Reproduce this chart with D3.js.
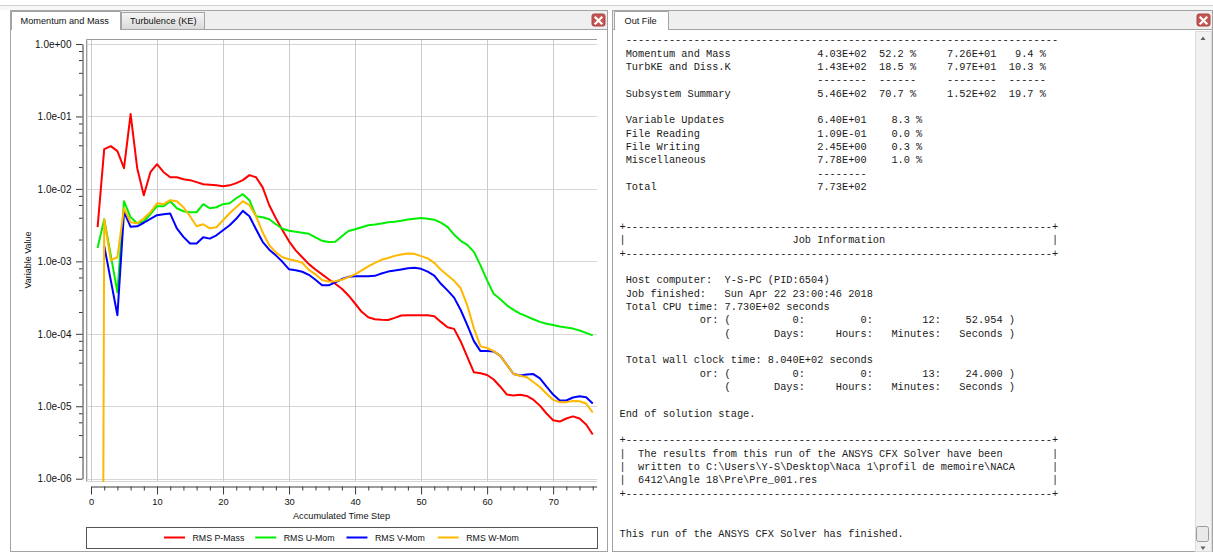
<!DOCTYPE html>
<html>
<head>
<meta charset="utf-8">
<script src="https://cdn.jsdelivr.net/npm/d3@7"></script>
<style>
  html, body { margin: 0; padding: 0; background: #fff; overflow: hidden; }
  svg { display: block; }
  .ui { font-family: Tahoma, "Liberation Sans", Arial, sans-serif; fill: #111; }
  .mono { font-family: "Courier New", "Liberation Mono", monospace; font-size: 10.3px; fill: #1a1a1a; white-space: pre; }
</style>
</head>
<body>
<svg id="view" width="1213" height="554"></svg>
<script>
// ---- Residual history (RMS residuals per accumulated time step) ----
const timeSteps = [
  1, 2, 3, 4, 5, 6, 7, 8, 9, 10, 11, 12, 13, 14, 15, 16, 17, 18, 19, 20,
  21, 22, 23, 24, 25, 26, 27, 28, 29, 30, 31, 32, 33, 34, 35, 36, 37, 38, 39, 40,
  41, 42, 43, 44, 45, 46, 47, 48, 49, 50, 51, 52, 53, 54, 55, 56, 57, 58, 59, 60,
  61, 62, 63, 64, 65, 66, 67, 68, 69, 70, 71, 72, 73, 74, 75, 76
];

const rmsPMass = [
  2.96e-3, 3.54e-2, 3.89e-2, 3.32e-2, 1.93e-2, 1.08e-1, 1.93e-2, 8.18e-3, 1.70e-2, 2.19e-2,
  1.70e-2, 1.45e-2, 1.45e-2, 1.36e-2, 1.32e-2, 1.24e-2, 1.16e-2, 1.14e-2, 1.12e-2, 1.09e-2,
  1.12e-2, 1.20e-2, 1.32e-2, 1.55e-2, 1.45e-2, 1.05e-2, 5.95e-3, 3.94e-3, 2.69e-3, 1.89e-3,
  1.42e-3, 1.14e-3, 9.16e-4, 7.71e-4, 6.61e-4, 5.65e-4, 4.91e-4, 4.18e-4, 3.38e-4, 2.62e-4,
  2.01e-4, 1.69e-4, 1.59e-4, 1.56e-4, 1.55e-4, 1.66e-4, 1.79e-4, 1.80e-4, 1.80e-4, 1.80e-4,
  1.80e-4, 1.75e-4, 1.46e-4, 1.23e-4, 1.17e-4, 7.85e-5, 4.80e-5, 2.94e-5, 2.86e-5, 2.70e-5,
  2.34e-5, 1.86e-5, 1.45e-5, 1.41e-5, 1.44e-5, 1.39e-5, 1.23e-5, 1.02e-5, 7.94e-6, 6.41e-6,
  6.15e-6, 6.77e-6, 7.26e-6, 6.77e-6, 5.60e-6, 4.07e-6
];

const rmsUMom = [
  1.53e-3, 3.81e-3, 1.21e-3, 3.73e-4, 6.76e-3, 4.06e-3, 3.36e-3, 3.58e-3, 4.47e-3, 5.77e-3,
  5.77e-3, 6.76e-3, 5.41e-3, 4.92e-3, 4.76e-3, 4.76e-3, 6.15e-3, 5.41e-3, 5.58e-3, 6.15e-3,
  6.34e-3, 7.43e-3, 8.45e-3, 6.98e-3, 4.20e-3, 4.06e-3, 3.81e-3, 3.25e-3, 2.82e-3, 2.64e-3,
  2.56e-3, 2.48e-3, 2.40e-3, 2.15e-3, 1.92e-3, 1.85e-3, 1.86e-3, 2.22e-3, 2.62e-3, 2.77e-3,
  2.96e-3, 3.15e-3, 3.23e-3, 3.33e-3, 3.46e-3, 3.52e-3, 3.63e-3, 3.79e-3, 3.87e-3, 3.97e-3,
  3.88e-3, 3.76e-3, 3.43e-3, 3.00e-3, 2.33e-3, 1.92e-3, 1.69e-3, 1.35e-3, 8.81e-4, 5.47e-4,
  3.56e-4, 2.99e-4, 2.47e-4, 2.14e-4, 1.90e-4, 1.74e-4, 1.59e-4, 1.46e-4, 1.38e-4, 1.32e-4,
  1.26e-4, 1.22e-4, 1.18e-4, 1.11e-4, 1.03e-4, 9.51e-5
];

// V-Mom has no value at the first step
const rmsVMom = [
  null,    1.63e-3, 5.47e-4, 1.80e-4, 4.81e-3, 3.00e-3, 3.05e-3, 3.41e-3, 3.87e-3, 4.33e-3,
  4.47e-3, 4.57e-3, 2.86e-3, 2.18e-3, 1.76e-3, 1.76e-3, 2.15e-3, 2.06e-3, 2.29e-3, 2.69e-3,
  3.15e-3, 3.87e-3, 4.97e-3, 4.20e-3, 2.77e-3, 1.86e-3, 1.45e-3, 1.21e-3, 9.86e-4, 7.76e-4,
  7.52e-4, 7.18e-4, 6.52e-4, 5.56e-4, 4.67e-4, 4.67e-4, 5.13e-4, 5.70e-4, 6.11e-4, 6.21e-4,
  6.21e-4, 6.21e-4, 6.31e-4, 6.79e-4, 7.22e-4, 7.48e-4, 7.74e-4, 8.02e-4, 8.15e-4, 7.89e-4,
  7.22e-4, 6.37e-4, 4.90e-4, 3.98e-4, 3.16e-4, 2.13e-4, 1.32e-4, 7.91e-5, 5.77e-5, 5.77e-5,
  5.71e-5, 4.95e-5, 3.73e-5, 2.79e-5, 2.66e-5, 2.75e-5, 2.78e-5, 2.42e-5, 1.86e-5, 1.45e-5,
  1.20e-5, 1.20e-5, 1.32e-5, 1.37e-5, 1.33e-5, 1.09e-5
];

// W-Mom starts from a practically zero residual
const rmsWMom = [
  1.0e-30, 3.81e-3, 1.04e-3, 1.14e-3, 5.41e-3, 3.46e-3, 3.36e-3, 3.94e-3, 4.76e-3, 6.34e-3,
  6.15e-3, 6.98e-3, 6.76e-3, 5.58e-3, 4.20e-3, 3.05e-3, 3.25e-3, 2.86e-3, 2.96e-3, 3.69e-3,
  4.61e-3, 5.58e-3, 6.76e-3, 5.96e-3, 4.20e-3, 2.52e-3, 1.67e-3, 1.33e-3, 1.14e-3, 1.07e-3,
  1.02e-3, 9.55e-4, 7.64e-4, 6.62e-4, 5.52e-4, 5.25e-4, 5.30e-4, 5.57e-4, 6.05e-4, 6.62e-4,
  7.52e-4, 8.55e-4, 9.55e-4, 1.05e-3, 1.11e-3, 1.19e-3, 1.24e-3, 1.28e-3, 1.27e-3, 1.18e-3,
  1.10e-3, 9.55e-4, 7.64e-4, 6.41e-4, 5.38e-4, 4.25e-4, 2.47e-4, 1.19e-4, 6.71e-5, 6.37e-5,
  5.77e-5, 4.95e-5, 3.73e-5, 2.79e-5, 2.64e-5, 2.52e-5, 2.16e-5, 1.84e-5, 1.49e-5, 1.23e-5,
  1.14e-5, 1.14e-5, 1.18e-5, 1.17e-5, 1.09e-5, 8.20e-6
];

const seriesNames  = ["RMS P-Mass", "RMS U-Mom", "RMS V-Mom", "RMS W-Mom"];
const seriesColors = ["#ff0000", "#00ee00", "#0000ff", "#ffb800"];
const seriesValues = [rmsPMass, rmsUMom, rmsVMom, rmsWMom];

const yTickValues = [1e0, 1e-1, 1e-2, 1e-3, 1e-4, 1e-5, 1e-6];
const xTickValues = [0, 10, 20, 30, 40, 50, 60, 70];

// ---- Solver output listing shown in the "Out File" tab ----
const dashes69 = "-".repeat(69);
const outFileRows = [
  [[1, "-".repeat(70)]],
  [[1, "Momentum and Mass"], [32, "4.03E+02"], [42, "52.2"], [47, "%"], [53, "7.26E+01"], [64, "9.4"], [68, "%"]],
  [[1, "TurbKE and Diss.K"], [32, "1.43E+02"], [42, "18.5"], [47, "%"], [53, "7.97E+01"], [63, "10.3"], [68, "%"]],
  [[32, "--------"], [42, "------"], [53, "--------"], [63, "------"]],
  [[1, "Subsystem Summary"], [32, "5.46E+02"], [42, "70.7"], [47, "%"], [53, "1.52E+02"], [63, "19.7"], [68, "%"]],
  [],
  [[1, "Variable Updates"], [32, "6.40E+01"], [44, "8.3"], [48, "%"]],
  [[1, "File Reading"], [32, "1.09E-01"], [44, "0.0"], [48, "%"]],
  [[1, "File Writing"], [32, "2.45E+00"], [44, "0.3"], [48, "%"]],
  [[1, "Miscellaneous"], [32, "7.78E+00"], [44, "1.0"], [48, "%"]],
  [[32, "--------"]],
  [[1, "Total"], [32, "7.73E+02"]],
  [],
  [],
  [[0, "+" + dashes69 + "+"]],
  [[0, "|"], [28, "Job Information"], [70, "|"]],
  [[0, "+" + dashes69 + "+"]],
  [],
  [[1, "Host computer:"], [17, "Y-S-PC (PID:6504)"]],
  [[1, "Job finished:"], [17, "Sun Apr 22 23:00:46 2018"]],
  [[1, "Total CPU time:"], [17, "7.730E+02 seconds"]],
  [[13, "or:"], [17, "("], [28, "0:"], [39, "0:"], [49, "12:"], [56, "52.954"], [63, ")"]],
  [[17, "("], [25, "Days:"], [35, "Hours:"], [44, "Minutes:"], [55, "Seconds"], [63, ")"]],
  [],
  [[1, "Total wall clock time:"], [24, "8.040E+02 seconds"]],
  [[13, "or:"], [17, "("], [28, "0:"], [39, "0:"], [49, "13:"], [56, "24.000"], [63, ")"]],
  [[17, "("], [25, "Days:"], [35, "Hours:"], [44, "Minutes:"], [55, "Seconds"], [63, ")"]],
  [],
  [[0, "End of solution stage."]],
  [],
  [[0, "+" + dashes69 + "+"]],
  [[0, "|"], [3, "The results from this run of the ANSYS CFX Solver have been"], [70, "|"]],
  [[0, "|"], [3, "written to C:\\Users\\Y-S\\Desktop\\Naca 1\\profil de memoire\\NACA"], [70, "|"]],
  [[0, "|"], [3, "6412\\Angle 18\\Pre\\Pre_001.res"], [70, "|"]],
  [[0, "+" + dashes69 + "+"]],
  [],
  [],
  [[0, "This run of the ANSYS CFX Solver has finished."]]
];

// ------------------------------------------------------------------
const svg = d3.select("#view");
const W = 1213, H = 554;
const border = "#a3a3a3";

svg.append("rect").attr("width", W).attr("height", H).attr("fill", "#ffffff");
svg.append("line").attr("x1", 0).attr("x2", W).attr("y1", 5.5).attr("y2", 5.5)
  .attr("stroke", "#d2d2d2");
svg.append("rect").attr("x", 0).attr("y", 6).attr("width", W).attr("height", 4).attr("fill", "#f7f7f7");

const defs = svg.append("defs");
const grad = defs.append("linearGradient").attr("id", "tabGrad").attr("x1", 0).attr("x2", 0).attr("y1", 0).attr("y2", 1);
grad.append("stop").attr("offset", "0%").attr("stop-color", "#f6f6f6");
grad.append("stop").attr("offset", "100%").attr("stop-color", "#d9d9d9");

// Panel frame with a tab strip, tabs and a close button
function drawPanel(x0, x1, tabs) {
  const g = svg.append("g");
  g.append("rect").attr("x", x0 + 0.5).attr("y", 10.5).attr("width", x1 - x0 - 1).attr("height", H - 13)
    .attr("fill", "#ffffff").attr("stroke", border);
  g.append("rect").attr("x", x0 + 1).attr("y", 11).attr("width", x1 - x0 - 2).attr("height", 18)
    .attr("fill", "#efefef");
  g.append("line").attr("x1", x0 + 1).attr("x2", x1 - 1).attr("y1", 29.5).attr("y2", 29.5).attr("stroke", border);
  tabs.forEach(t => {
    if (t.active) {
      g.append("path")
        .attr("d", `M${t.x0 + 0.5},30 V11.5 H${t.x1 - 0.5} V30`)
        .attr("fill", "#ffffff").attr("stroke", border);
      g.append("rect").attr("x", t.x0 + 1).attr("y", 28).attr("width", t.x1 - t.x0 - 2).attr("height", 3).attr("fill", "#ffffff");
    } else {
      g.append("rect").attr("x", t.x0 + 0.5).attr("y", 12.5).attr("width", t.x1 - t.x0 - 1).attr("height", 17)
        .attr("fill", "url(#tabGrad)").attr("stroke", border);
    }
    g.append("text").attr("class", "ui").attr("x", t.tx).attr("y", 23.6)
      .attr("font-size", 9.2).text(t.label);
  });
  // close button
  const cx = x1 - 16;
  g.append("rect").attr("x", cx).attr("y", 14).attr("width", 13).attr("height", 12).attr("rx", 2)
    .attr("fill", "#c65452").attr("stroke", "#a94442");
  g.append("path").attr("d", `M${cx + 3.5},17.5 L${cx + 9.5},23.5 M${cx + 9.5},17.5 L${cx + 3.5},23.5`)
    .attr("stroke", "#ffffff").attr("stroke-width", 2.2).attr("stroke-linecap", "square");
  return g;
}

drawPanel(10, 608, [
  { label: "Momentum and Mass", x0: 11, x1: 121, tx: 20.5, active: true },
  { label: "Turbulence (KE)", x0: 121, x1: 205, tx: 130, active: false }
]);
drawPanel(612, 1213, [
  { label: "Out File", x0: 614, x1: 669, tx: 624.5, active: true }
]);

// ---- Residual plot ----
const x = d3.scaleLinear().domain([0, 76.6]).range([91, 596.7]);
const y = d3.scaleLog().domain([1e-6, 1]).range([478.7, 44]);
const plot = { left: 86, right: 597, top: 39.5, bottom: 481.5 };

const chart = svg.append("g").attr("class", "ui");

// grid
chart.append("g").selectAll("line").data(yTickValues).join("line")
  .attr("x1", plot.left).attr("x2", plot.right)
  .attr("y1", d => Math.round(y(d)) + 0.5).attr("y2", d => Math.round(y(d)) + 0.5)
  .attr("stroke", "#d6d6d6");
chart.append("g").selectAll("line").data(xTickValues).join("line")
  .attr("x1", d => Math.round(x(d)) + 0.5).attr("x2", d => Math.round(x(d)) + 0.5)
  .attr("y1", plot.top).attr("y2", plot.bottom)
  .attr("stroke", "#cbcbcb");

// plot frame (top, left, bottom)
chart.append("path")
  .attr("d", `M${plot.right},${plot.top} H${plot.left + 0.5} V${plot.bottom}`)
  .attr("fill", "none").attr("stroke", "#9a9a9a");
chart.append("line").attr("x1", plot.left + 1.5).attr("x2", plot.left + 1.5)
  .attr("y1", plot.top + 1).attr("y2", plot.bottom).attr("stroke", "#dcdcdc");
chart.append("line").attr("x1", plot.left).attr("x2", plot.right)
  .attr("y1", plot.bottom).attr("y2", plot.bottom).attr("stroke", "#d6d6d6");

// y axis (log)
const fmtExp = v => {
  const e = Math.round(Math.log10(v));
  return "1.0e" + (e < 0 ? "-" : "+") + String(Math.abs(e)).padStart(2, "0");
};
const yMinor = [];
yTickValues.slice(1).forEach(d => [2, 4, 6, 8].forEach(m => yMinor.push(d * m)));

const yAxisG = chart.append("g").attr("transform", "translate(82.5,0)")
  .call(d3.axisLeft(y).tickValues(yTickValues).tickFormat(fmtExp).tickSize(6.5).tickSizeOuter(0).tickPadding(4.5));
yAxisG.selectAll("text").attr("font-size", 10).attr("font-family", "Tahoma, 'Liberation Sans', Arial, sans-serif").attr("fill", "#111");
yAxisG.select(".domain").attr("stroke", "#3a3a3a");
yAxisG.selectAll(".tick line").attr("stroke", "#3a3a3a");
const yMinorG = chart.append("g").attr("transform", "translate(82.5,0)")
  .call(d3.axisLeft(y).tickValues(yMinor).tickFormat("").tickSize(3.5).tickSizeOuter(0));
yMinorG.select(".domain").remove();
yMinorG.selectAll(".tick line").attr("stroke", "#3a3a3a");

// x axis
const xMinor = [];
xTickValues.forEach(d => [2, 4, 6, 8].forEach(m => { if (d + m <= 76.6) xMinor.push(d + m); }));
const xAxisG = chart.append("g").attr("transform", "translate(0,486.5)")
  .call(d3.axisBottom(x).tickValues(xTickValues).tickSize(8).tickSizeOuter(0).tickPadding(4));
xAxisG.selectAll("text").attr("font-size", 9.3).attr("font-family", "Tahoma, 'Liberation Sans', Arial, sans-serif").attr("fill", "#111");
xAxisG.select(".domain").attr("stroke", "#3a3a3a");
xAxisG.selectAll(".tick line").attr("stroke", "#3a3a3a");
const xMinorG = chart.append("g").attr("transform", "translate(0,486.5)")
  .call(d3.axisBottom(x).tickValues(xMinor).tickFormat("").tickSize(4).tickSizeOuter(0));
xMinorG.select(".domain").remove();
xMinorG.selectAll(".tick line").attr("stroke", "#3a3a3a");

// axis titles
chart.append("text").attr("transform", "translate(30.5,260) rotate(-90)")
  .attr("text-anchor", "middle").attr("font-size", 9).text("Variable Value");
chart.append("text").attr("x", 341.5).attr("y", 519)
  .attr("text-anchor", "middle").attr("font-size", 9.2).text("Accumulated Time Step");

// residual curves
defs.append("clipPath").attr("id", "plotClip").append("rect")
  .attr("x", plot.left + 1).attr("y", plot.top + 0.5)
  .attr("width", plot.right - plot.left - 1).attr("height", plot.bottom - plot.top);

const line = d3.line()
  .defined(d => d.v != null)
  .x(d => x(d.t))
  .y(d => y(d.v));

const series = seriesNames.map((name, i) => ({
  name, color: seriesColors[i],
  points: timeSteps.map((t, k) => ({ t, v: seriesValues[i][k] }))
}));

chart.append("g").attr("clip-path", "url(#plotClip)")
  .selectAll("path").data(series).join("path")
  .attr("d", s => line(s.points))
  .attr("fill", "none")
  .attr("stroke", s => s.color)
  .attr("stroke-width", 2)
  .attr("stroke-linejoin", "round");

// legend
chart.append("rect").attr("x", 86.5).attr("y", 527.5).attr("width", 511).attr("height", 21)
  .attr("fill", "#ffffff").attr("stroke", "#555555");
const legendX = d3.scalePoint().domain(seriesNames).range([164, 437.7]);
const legendItem = chart.append("g").selectAll("g").data(series).join("g")
  .attr("transform", s => `translate(${legendX(s.name)},537.5)`);
legendItem.append("line").attr("x1", 0).attr("x2", 21).attr("y1", 0).attr("y2", 0)
  .attr("stroke", s => s.color).attr("stroke-width", 2);
legendItem.append("text").attr("x", 28.5).attr("y", 3.2).attr("font-size", 8.8).text(s => s.name);

// ---- Out File listing ----
const charW = 6.18, textX0 = 619.5, lineH = 13.333, baseY = 43.3;
function buildRow(parts) {
  let s = "";
  parts.forEach(([col, txt]) => {
    if (s.length < col) s += " ".repeat(col - s.length);
    s += txt;
  });
  return s;
}
const listing = svg.append("g");
listing.selectAll("text").data(outFileRows).join("text")
  .attr("class", "mono")
  .attr("xml:space", "preserve")
  .attr("x", textX0)
  .attr("y", (d, i) => baseY + i * lineH)
  .text(d => buildRow(d));

// scrollbar
const sb = svg.append("g");
sb.append("rect").attr("x", 1195.5).attr("y", 31.5).attr("width", 16).attr("height", 520)
  .attr("fill", "#f1f1f1").attr("stroke", "#dcdcdc");
sb.append("path").attr("d", "M1200.5,40 L1203,36.5 L1205.5,40 Z").attr("fill", "#606060");
sb.append("path").attr("d", "M1200.5,546.5 L1203,550 L1205.5,546.5 Z").attr("fill", "#606060");
sb.append("rect").attr("x", 1196.5).attr("y", 526.5).attr("width", 12).attr("height", 15).attr("rx", 2)
  .attr("fill", "#e9e9e9").attr("stroke", "#9c9c9c");
</script>
</body>
</html>
